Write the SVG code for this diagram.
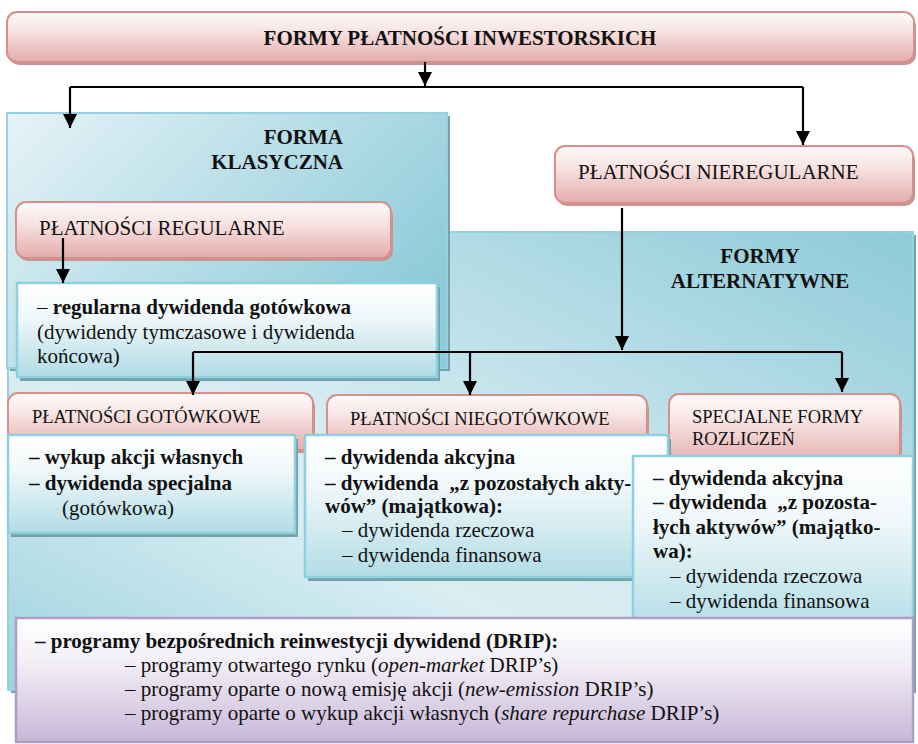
<svg xmlns="http://www.w3.org/2000/svg" width="918" height="744" viewBox="0 0 918 744">
<style>
text { font-family: "Liberation Serif", "Times New Roman", serif; fill: #111; font-size: 21px; }
.b { font-weight: bold; }
.sm { font-size: 18.5px; }
.i { font-style: italic; }
.pink { fill: url(#pinkG); stroke: #d98e8e; stroke-width: 2; }
.pinksh { fill: #c39595; }
.white { fill: url(#whiteG); stroke: #8fd0df; stroke-width: 2.5; }
.whitesh { fill: #76a1ab; }
.bluesh { fill: #74a3ad; }
.lav { fill: url(#lavG); stroke: #b09cc6; stroke-width: 2.5; }
.conn path { fill: none; stroke: #000; stroke-width: 2.2; }
</style>
<defs>
<linearGradient id="pinkG" x1="0" y1="0" x2="0" y2="1">
<stop offset="0" stop-color="#fefafa"/>
<stop offset="0.35" stop-color="#f8e6e6"/>
<stop offset="1" stop-color="#e3abab"/>
</linearGradient>
<linearGradient id="whiteG" x1="0" y1="0" x2="0" y2="1">
<stop offset="0" stop-color="#ffffff"/>
<stop offset="0.35" stop-color="#f1f8fa"/>
<stop offset="1" stop-color="#b2dce6"/>
</linearGradient>
<linearGradient id="lavG" x1="0" y1="0" x2="0" y2="1">
<stop offset="0" stop-color="#ffffff"/>
<stop offset="0.35" stop-color="#f3eff6"/>
<stop offset="1" stop-color="#c8b7d8"/>
</linearGradient>
<linearGradient id="klasG" x1="0" y1="0" x2="1" y2="0.6">
<stop offset="0" stop-color="#e6f3f7"/>
<stop offset="1" stop-color="#8ecbd9"/>
</linearGradient>
<linearGradient id="altG" x1="0" y1="1" x2="1" y2="0">
<stop offset="0" stop-color="#9dd2de"/>
<stop offset="0.35" stop-color="#d9eef3"/>
<stop offset="0.5" stop-color="#d3eaf0"/>
<stop offset="1" stop-color="#8dcad8"/>
</linearGradient>
<marker id="arr" viewBox="0 0 10 10" refX="10" refY="5" markerWidth="15" markerHeight="14" orient="auto" markerUnits="userSpaceOnUse">
<path d="M0,0 L10,5 L0,10 z" fill="#000"/>
</marker>
</defs>

<g id="forma-alternatywna">
<rect class="bluesh" x="11" y="235" width="905" height="458"/>
<rect x="8" y="232" width="905" height="458" fill="url(#altG)" stroke="#95d1df" stroke-width="2"/>
<text class="b" x="760" y="263" text-anchor="middle">FORMY</text>
<text class="b" x="760" y="288" text-anchor="middle">ALTERNATYWNE</text>
</g>

<g id="forma-klasyczna">
<rect class="bluesh" x="10" y="116" width="440" height="255"/>
<rect x="7" y="113" width="440" height="255" fill="url(#klasG)" stroke="#95d1df" stroke-width="2"/>
<text class="b" x="343" y="144" text-anchor="end">FORMA</text>
<text class="b" x="343" y="169" text-anchor="end">KLASYCZNA</text>
</g>

<g id="formy-platnosci">
<rect class="pinksh" x="9" y="15" width="907" height="50" rx="10"/>
<rect class="pink" x="7" y="12" width="907" height="50" rx="10"/>
<text class="b" x="460" y="45" text-anchor="middle">FORMY PŁATNOŚCI INWESTORSKICH</text>
</g>

<g id="platnosci-nieregularne">
<rect class="pinksh" x="557" y="149" width="358" height="57" rx="10"/>
<rect class="pink" x="555" y="146" width="358" height="57" rx="10"/>
<text x="578" y="179">PŁATNOŚCI NIEREGULARNE</text>
</g>

<g id="platnosci-regularne">
<rect class="pinksh" x="18" y="205" width="375" height="56" rx="10"/>
<rect class="pink" x="16" y="202" width="375" height="56" rx="10"/>
<text x="39" y="235">PŁATNOŚCI REGULARNE</text>
</g>

<g id="regularna-dywidenda">
<rect class="whitesh" x="20" y="287" width="420" height="94"/>
<rect class="white" x="17" y="283" width="420" height="94"/>
<text x="37" y="314"><tspan>– </tspan><tspan class="b">regularna dywidenda gotówkowa</tspan></text>
<text x="37" y="339">(dywidendy tymczasowe i dywidenda</text>
<text x="37" y="363">końcowa)</text>
</g>

<g id="platnosci-gotowkowe">
<rect class="pinksh" x="10" y="396" width="305" height="57" rx="10"/>
<rect class="pink" x="8" y="393" width="305" height="57" rx="10"/>
<text class="sm" x="32" y="423">PŁATNOŚCI GOTÓWKOWE</text>
</g>

<g id="platnosci-niegotowkowe">
<rect class="pinksh" x="329" y="398" width="320" height="55" rx="10"/>
<rect class="pink" x="327" y="395" width="320" height="55" rx="10"/>
<text class="sm" x="350" y="425">PŁATNOŚCI NIEGOTÓWKOWE</text>
</g>

<g id="specjalne-formy">
<rect class="pinksh" x="671" y="397" width="231" height="71" rx="10"/>
<rect class="pink" x="669" y="394" width="231" height="71" rx="10"/>
<text class="sm" x="692" y="423">SPECJALNE FORMY</text>
<text class="sm" x="692" y="445">ROZLICZEŃ</text>
</g>

<g id="gotowkowe-lista">
<rect class="whitesh" x="11" y="439" width="287" height="98"/>
<rect class="white" x="8" y="435" width="287" height="98"/>
<text class="b" x="29" y="464">– wykup akcji własnych</text>
<text class="b" x="29" y="490">– dywidenda specjalna</text>
<text x="62" y="515">(gotówkowa)</text>
</g>

<g id="niegotowkowe-lista">
<rect class="whitesh" x="308" y="439" width="363" height="142"/>
<rect class="white" x="305" y="435" width="363" height="142"/>
<text class="b" x="325" y="464">– dywidenda akcyjna</text>
<text class="b" x="325" y="490">– dywidenda &#160;„z pozostałych akty-</text>
<text class="b" x="325" y="513">wów” (majątkowa):</text>
<text x="342" y="537">– dywidenda rzeczowa</text>
<text x="342" y="562">– dywidenda finansowa</text>
</g>

<g id="specjalne-lista">
<rect class="whitesh" x="636" y="460" width="280" height="176"/>
<rect class="white" x="633" y="456" width="280" height="176"/>
<text class="b" x="653" y="485">– dywidenda akcyjna</text>
<text class="b" x="653" y="509">– dywidenda &#160;„z pozosta-</text>
<text class="b" x="653" y="534">łych aktywów” (majątko-</text>
<text class="b" x="653" y="558">wa):</text>
<text x="670" y="583">– dywidenda rzeczowa</text>
<text x="670" y="608">– dywidenda finansowa</text>
</g>

<g id="drip">
<rect class="lav" x="16" y="618" width="897" height="124"/>
<text class="b" x="35" y="648">– programy bezpośrednich reinwestycji dywidend (DRIP):</text>
<text x="125" y="672">– programy otwartego rynku (<tspan class="i">open-market</tspan> DRIP’s)</text>
<text x="125" y="696">– programy oparte o nową emisję akcji (<tspan class="i">new-emission</tspan> DRIP’s)</text>
<text x="125" y="720">– programy oparte o wykup akcji własnych (<tspan class="i">share repurchase</tspan> DRIP’s)</text>
</g>

<g id="connectors" class="conn">
<path d="M425,62 V86" marker-end="url(#arr)"/>
<path d="M70,87 H803"/>
<path d="M70,87 V128" marker-end="url(#arr)"/>
<path d="M803,87 V145" marker-end="url(#arr)"/>
<path d="M63,238 V283" marker-end="url(#arr)"/>
<path d="M622,208 V350" marker-end="url(#arr)"/>
<path d="M193,352 H842"/>
<path d="M193,352 V395" marker-end="url(#arr)"/>
<path d="M470,352 V395" marker-end="url(#arr)"/>
<path d="M842,352 V392" marker-end="url(#arr)"/>
</g>
</svg>
